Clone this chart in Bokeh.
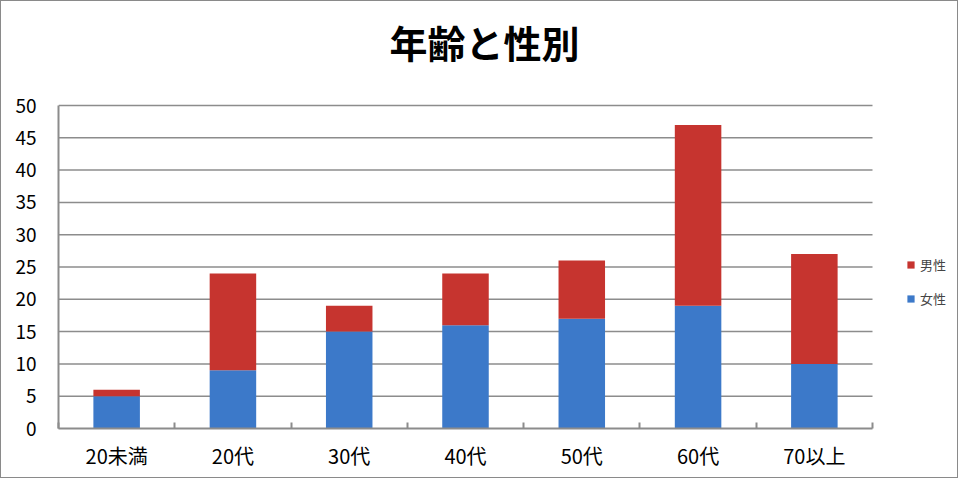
from bokeh.plotting import figure
from bokeh.models import Legend, LegendItem, FixedTicker, Range1d, ColumnDataSource, Label
from bokeh.embed import file_html
from bokeh.resources import INLINE

categories = ["20未満", "20代", "30代", "40代", "50代", "60代", "70以上"]
female = [5, 9, 15, 16, 17, 19, 10]
male = [1, 15, 4, 8, 9, 28, 17]
title_text = "年齢と性別"
series_names = ["女性", "男性"]
y_ticks = list(range(0, 55, 5))

FONT = "Noto Sans CJK JP"
BLUE = "#3c79c9"
RED = "#c6342f"
GRID = "#8c8c8c"

# layout: the frame covers the whole canvas right/top of the axes; the chart
# area occupies 814 x 323 px of a 901 x 427 px frame (legend and title sit inside)
n = len(categories)
y_max = max(y_ticks)
x_end = n * 901 / 814
y_end = y_max * 427 / 323

xs = [i + 0.5 for i in range(n)]
src = ColumnDataSource(dict(x=xs, female=female, male=male))
grid_src = ColumnDataSource(dict(y=y_ticks[1:], x0=[0] * len(y_ticks[1:]), x1=[n] * len(y_ticks[1:])))

p = figure(width=958, height=478, output_backend="svg", toolbar_location=None,
           x_range=Range1d(0, x_end), y_range=Range1d(0, y_end),
           min_border_left=57, min_border_right=0, min_border_top=0, min_border_bottom=51)
p.styles = {"border": "1px solid #8a8a8a"}
p.outline_line_color = None
p.title.visible = False

# horizontal gridlines, limited to the chart area
p.segment(x0="x0", x1="x1", y0="y", y1="y", source=grid_src, line_color=GRID, line_width=1.5)

r = p.vbar_stack(["female", "male"], x="x", width=0.4, source=src,
                 color=[BLUE, RED], line_color=None)

# title
p.add_layout(Label(x=426, y=387, x_units="screen", y_units="screen", text=title_text,
                   text_font=FONT, text_font_style="bold", text_font_size="38px",
                   text_align="center", text_baseline="middle", text_color="#000000"))

# axes
xa = p.xaxis[0]
xa.bounds = (0, n)
xa.ticker = FixedTicker(ticks=xs, minor_ticks=list(range(n + 1)))
xa.major_label_overrides = {x: c for x, c in zip(xs, categories)}
xa.major_tick_line_color = None
xa.major_tick_out = 0
xa.major_tick_in = 0
xa.minor_tick_line_color = GRID
xa.minor_tick_line_width = 2
xa.minor_tick_in = 6
xa.minor_tick_out = 0
xa.axis_line_color = GRID
xa.axis_line_width = 2
xa.major_label_text_font = FONT
xa.major_label_text_font_size = "20px"
xa.major_label_text_color = "#000000"
xa.major_label_standoff = 12

ya = p.yaxis[0]
ya.bounds = (0, y_max)
ya.ticker = FixedTicker(ticks=y_ticks)
ya.major_tick_line_color = None
ya.major_tick_out = 0
ya.major_tick_in = 0
ya.minor_tick_line_color = None
ya.axis_line_color = GRID
ya.axis_line_width = 2
ya.major_label_text_font = FONT
ya.major_label_text_font_size = "19px"
ya.major_label_text_color = "#000000"
ya.major_label_standoff = 22

p.xgrid.grid_line_color = None
p.ygrid.grid_line_color = None

legend = Legend(items=[LegendItem(label=series_names[1], renderers=[r[1]]),
                       LegendItem(label=series_names[0], renderers=[r[0]])],
                location=(848, 120), padding=0, margin=0, spacing=15,
                glyph_width=9, glyph_height=9, label_standoff=5, label_height=15,
                label_text_font=FONT, label_text_font_size="13px",
                border_line_color=None, background_fill_alpha=0)
p.add_layout(legend)

open("out.html", "w").write(file_html(p, INLINE))
